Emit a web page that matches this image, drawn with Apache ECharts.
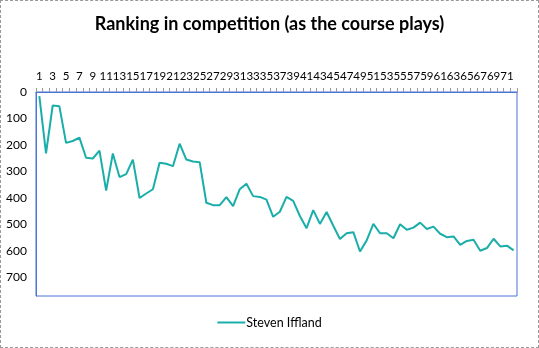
<!DOCTYPE html>
<html><head><meta charset="utf-8">
<script src="https://cdn.jsdelivr.net/npm/echarts@6/dist/echarts.min.js"></script>
<style>
html,body{margin:0;padding:0;background:#fff;}
#c{width:539px;height:348px;box-sizing:border-box;border:1px dashed #999;}
</style></head>
<body><div id="c"></div>
<script>
const titleText = 'Ranking in competition (as the course plays)';
const seriesName = 'Steven Iffland';
const categories = [];
for (let i = 1; i <= 72; i++) categories.push(String(i));
const ranks = [16,232,51,54,192,185,172,248,251,221,372,232,321,310,255,
  400,383,367,267,271,280,195,255,262,265,418,427,427,397,431,
  367,346,393,396,406,471,452,396,411,468,514,446,498,453,505,
  555,533,529,602,560,498,533,533,552,499,520,512,493,517,508,
  535,548,545,577,562,558,599,589,554,583,580,598];
const yTicks = [0,100,200,300,400,500,600,700];

const chart = echarts.init(document.getElementById('c'), null, {renderer:'canvas'});
chart.setOption({
  animation:false,
  title:{text:titleText,left:'center',top:9,
    textStyle:{fontFamily:'Lato',fontWeight:'bold',fontSize:18,color:'#000'}},
  grid:{left:35,right:21,top:91,bottom:51,show:true,borderColor:'#4a74d6',borderWidth:1,backgroundColor:'#fff'},
  legend:{bottom:13,left:'center',itemWidth:28,itemHeight:2,itemGap:4,
    icon:'rect',
    textStyle:{fontFamily:'Lato',fontSize:12.5,color:'#000',padding:[0,0,0,-4]},
    data:[{name:seriesName,icon:'rect'}]},
  xAxis:{type:'category',data:categories,position:'top',boundaryGap:true,
    axisLine:{lineStyle:{color:'#4a74d6'}},
    axisTick:{show:true,interval:0,length:4,lineStyle:{color:'#999'}},
    axisLabel:{interval:0,showMinLabel:true,showMaxLabel:true,hideOverlap:false,
      formatter:(v,i)=>(i%2===0?v:''),
      fontFamily:'Lato',fontSize:11.5,color:'#000',margin:10}},
  yAxis:{type:'value',inverse:true,min:0,max:770,interval:100,
    axisLine:{show:true,lineStyle:{color:'#4a74d6'}},
    axisTick:{show:false},
    splitLine:{show:false},
    axisLabel:{showMaxLabel:false,fontFamily:'Lato',fontSize:12,color:'#000',margin:9,
      formatter:v=>yTicks.includes(v)?String(v):''}},
  series:[{name:seriesName,type:'line',data:ranks,showSymbol:false,symbol:'none',
    lineStyle:{color:'#1aaeaa',width:2},itemStyle:{color:'#1aaeaa'}}]
});
</script></body></html>
